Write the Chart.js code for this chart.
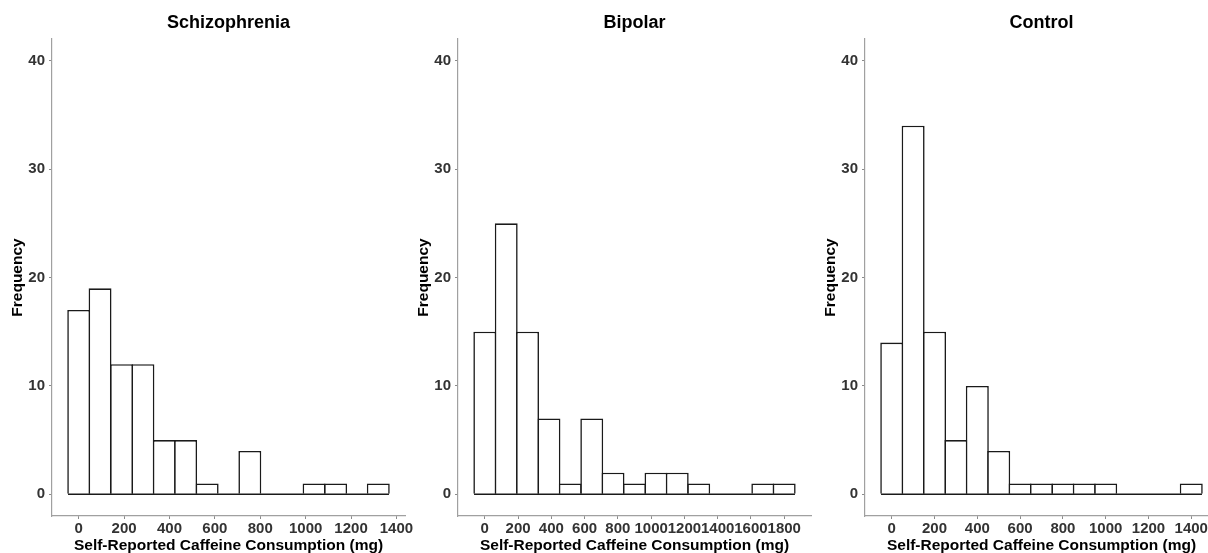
<!DOCTYPE html>
<html>
<head>
<meta charset="utf-8">
<script src="https://cdn.jsdelivr.net/npm/chart.js@4/dist/chart.umd.min.js"></script>
<style>
  html, body { margin: 0; padding: 0; background: #fff; width: 1208px; height: 553px; overflow: hidden; position: relative; }
  canvas { position: absolute; top: 0; }
</style>
</head>
<body>
<canvas id="schizo" width="420" height="553" style="left:0px"></canvas>
<canvas id="bipolar" width="420" height="553" style="left:406px"></canvas>
<canvas id="control" width="420" height="553" style="left:813px"></canvas>
<script>
// histogram data (bin centres in mg, counts per bin)
const xTitle = "Self-Reported Caffeine Consumption (mg)";
const yTitle = "Frequency";
const yTicks = [0, 10, 20, 30, 40];

const schizoBins = [0, 94, 189, 283, 377, 471, 566, 660, 754, 849, 943, 1037, 1132, 1226, 1320];
const schizoCounts = [17, 19, 12, 12, 5, 5, 1, 0, 4, 0, 0, 1, 1, 0, 1];
const schizoTicks = [0, 200, 400, 600, 800, 1000, 1200, 1400];

const bipolarBins = [0, 129, 257, 386, 514, 643, 771, 900, 1029, 1157, 1286, 1414, 1543, 1671, 1800];
const bipolarCounts = [15, 25, 15, 7, 1, 7, 2, 1, 2, 2, 1, 0, 0, 1, 1];
const bipolarTicks = [0, 200, 400, 600, 800, 1000, 1200, 1400, 1600, 1800];

const controlBins = [0, 100, 200, 300, 400, 500, 600, 700, 800, 900, 1000, 1100, 1200, 1300, 1400];
const controlCounts = [14, 34, 15, 5, 10, 4, 1, 1, 1, 1, 1, 0, 0, 0, 1];
const controlTicks = [0, 200, 400, 600, 800, 1000, 1200, 1400];

const FONT = "'Liberation Sans', Arial, Helvetica, sans-serif";

function makePanel(id, title, bins, counts, xTicks) {
  const half = (bins[1] - bins[0]) / 2;
  const lo = bins[0] - half;
  const hi = bins[bins.length - 1] + half;
  const pad = (hi - lo) * 0.05; // ggplot default expansion

  new Chart(document.getElementById(id), {
    type: "bar",
    data: {
      datasets: [
        {
          // baseline at zero, like the outline of empty bins
          type: "line",
          data: [{ x: lo, y: 0 }, { x: hi, y: 0 }],
          borderColor: "#1a1a1a",
          borderWidth: 1.6,
          pointRadius: 0,
          order: 0
        },
        {
          type: "bar",
          data: bins.map((b, i) => ({ x: b, y: counts[i] })),
          backgroundColor: "#ffffff",
          borderColor: "#1a1a1a",
          borderWidth: 1.6,
          borderSkipped: "start",
          categoryPercentage: 1,
          barPercentage: 1.075,
          order: 1
        }
      ]
    },
    options: {
      responsive: false,
      animation: false,
      layout: { padding: { left: 0, right: 15, top: 0, bottom: 0 } },
      plugins: {
        legend: { display: false },
        tooltip: { enabled: false },
        title: {
          display: true,
          text: title,
          fullSize: false,
          color: "#000",
          font: { family: FONT, size: 18, weight: "bold", lineHeight: 1.2 },
          padding: { top: 12, bottom: 5.4 }
        }
      },
      scales: {
        x: {
          type: "linear",
          offset: false,
          min: lo - pad,
          max: hi + pad,
          afterBuildTicks: s => { s.ticks = xTicks.map(v => ({ value: v })); },
          afterFit: s => { s.height = 37; s.paddingLeft = 0; s.paddingRight = 0; },
          grid: { display: true, drawOnChartArea: false, offset: false, tickLength: 3, color: "#8a8a8a", lineWidth: 1 },
          border: { display: true, color: "#a0a0a0", width: 1.2 },
          ticks: {
            color: "#333",
            padding: 1,
            maxRotation: 0,
            autoSkip: false,
            callback: v => String(v),
            font: { family: FONT, size: 15, weight: "bold" }
          },
          title: {
            display: true,
            text: xTitle,
            color: "#000",
            padding: { top: 0, bottom: 0 },
            font: { family: FONT, size: 15.5, weight: "bold", lineHeight: 1 }
          }
        },
        y: {
          min: -2,
          max: 42,
          afterBuildTicks: s => { s.ticks = yTicks.map(v => ({ value: v })); },
          afterFit: s => { s.width = 52; s.paddingTop = 0; s.paddingBottom = 0; },
          grid: { display: true, drawOnChartArea: false, tickLength: 3, color: "#8a8a8a", lineWidth: 1 },
          border: { display: true, color: "#a0a0a0", width: 1.2 },
          ticks: { color: "#333", padding: 4, callback: v => String(v), font: { family: FONT, size: 15, weight: "bold" } },
          title: {
            display: true,
            text: yTitle,
            color: "#000",
            padding: { top: 8.7, bottom: 0 },
            font: { family: FONT, size: 15.5, weight: "bold", lineHeight: 1.2 }
          }
        }
      }
    }
  });
}

makePanel("schizo", "Schizophrenia", schizoBins, schizoCounts, schizoTicks);
makePanel("bipolar", "Bipolar", bipolarBins, bipolarCounts, bipolarTicks);
makePanel("control", "Control", controlBins, controlCounts, controlTicks);
</script>
</body>
</html>
